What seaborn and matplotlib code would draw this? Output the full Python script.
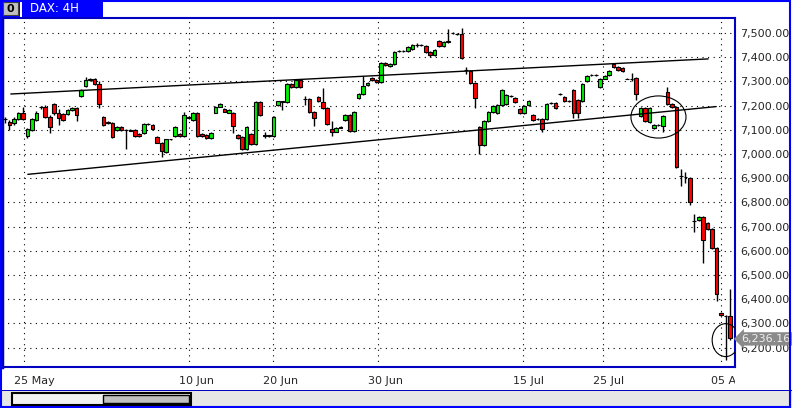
import numpy as np
import pandas as pd
import matplotlib
matplotlib.use("Agg")
import matplotlib.pyplot as plt
from matplotlib.patches import Rectangle, Ellipse
from matplotlib.transforms import Bbox, TransformedBbox
import seaborn as sns

# --- DAX 4H candles ---
opens = [7145, 7133, 7127, 7146, 7168, 7074, 7100, 7141, 7196, 7196,
         7154, 7205, 7171, 7165, 7165, 7182, 7189, 7240, 7279, 7305,
         7309, 7288, 7154, 7131, 7127, 7099, 7113, 7099, 7099, 7099,
         7083, 7088, 7123, 7120, 7072, 7047, 7010, 7061, 7074, 7083,
         7074, 7154, 7141, 7168, 7083, 7079, 7065, 7171, 7196, 7185,
         7171, 7168, 7079, 7072, 7019, 7083, 7041, 7216, 7076, 7076,
         7076, 7203, 7217, 7214, 7290, 7276, 7306, 7228, 7228, 7175,
         7235, 7214, 7189, 7104, 7093, 7110, 7141, 7163, 7094, 7231,
         7248, 7286, 7313, 7306, 7297, 7375, 7363, 7373, 7424, 7425,
         7424, 7432, 7451, 7449, 7446, 7421, 7411, 7467, 7446, 7462,
         7500, 7497, 7497, 7349, 7345, 7293, 7113, 7039, 7138, 7173,
         7170, 7201, 7205, 7240, 7233, 7187, 7170, 7201, 7163, 7145,
         7145, 7145, 7212, 7212, 7247, 7236, 7219, 7265, 7223, 7219,
         7303, 7326, 7326, 7275, 7312, 7326, 7372, 7358, 7354, 7312,
         7312, 7316, 7159, 7191, 7131, 7107, 7121, 7117, 7256, 7205,
         7195, 6910, 6903, 6899, 6724, 6728, 6740, 6717, 6690, 6610,
         6345, 6331, 6331]
highs = [7152, 7140, 7152, 7172, 7196, 7106, 7148, 7176, 7200, 7201,
         7160, 7210, 7185, 7170, 7186, 7196, 7193, 7268, 7319, 7316,
         7314, 7300, 7158, 7135, 7131, 7116, 7117, 7104, 7102, 7103,
         7086, 7127, 7127, 7124, 7076, 7050, 7064, 7064, 7117, 7087,
         7175, 7158, 7172, 7172, 7086, 7083, 7090, 7200, 7212, 7192,
         7186, 7172, 7083, 7076, 7114, 7087, 7220, 7220, 7090, 7080,
         7156, 7220, 7220, 7294, 7294, 7310, 7310, 7239, 7232, 7179,
         7239, 7272, 7193, 7138, 7110, 7114, 7167, 7167, 7177, 7252,
         7324, 7298, 7317, 7310, 7379, 7379, 7377, 7425, 7428, 7429,
         7446, 7453, 7460, 7453, 7450, 7425, 7435, 7471, 7466, 7518,
         7504, 7501, 7520, 7360, 7349, 7297, 7117, 7142, 7177, 7201,
         7205, 7269, 7248, 7244, 7237, 7191, 7202, 7223, 7167, 7149,
         7149, 7209, 7216, 7216, 7251, 7240, 7223, 7269, 7227, 7295,
         7325, 7330, 7330, 7313, 7327, 7348, 7376, 7362, 7358, 7316,
         7336, 7320, 7195, 7195, 7195, 7125, 7125, 7160, 7275, 7209,
         7199, 6937, 6925, 6903, 6751, 6744, 6744, 6721, 6694, 6614,
         6349, 6335, 6442]
lows = [7130, 7100, 7118, 7140, 7140, 7068, 7094, 7136, 7186, 7148,
        7086, 7163, 7120, 7137, 7160, 7178, 7138, 7236, 7275, 7300,
        7286, 7189, 7116, 7122, 7068, 7095, 7095, 7019, 7094, 7070,
        7071, 7084, 7119, 7098, 7044, 6989, 7005, 7058, 7070, 7070,
        7070, 7143, 7138, 7070, 7070, 7061, 7061, 7168, 7193, 7172,
        7168, 7088, 7061, 7015, 7015, 7037, 7037, 7157, 7065, 7072,
        7072, 7199, 7180, 7210, 7272, 7272, 7272, 7203, 7171, 7117,
        7214, 7185, 7120, 7076, 7089, 7106, 7137, 7090, 7090, 7227,
        7244, 7282, 7300, 7293, 7293, 7362, 7359, 7369, 7420, 7421,
        7420, 7428, 7442, 7445, 7417, 7400, 7407, 7442, 7442, 7458,
        7496, 7493, 7392, 7330, 7289, 7189, 7000, 7035, 7134, 7169,
        7166, 7197, 7201, 7236, 7212, 7166, 7166, 7197, 7138, 7141,
        7090, 7141, 7208, 7187, 7243, 7215, 7215, 7150, 7150, 7215,
        7299, 7322, 7322, 7271, 7308, 7322, 7354, 7345, 7340, 7308,
        7300, 7225, 7155, 7131, 7127, 7103, 7117, 7090, 7201, 7191,
        6943, 6869, 6880, 6790, 6676, 6724, 6548, 6686, 6606, 6393,
        6332, 6150, 6230]
closes = [7143, 7120, 7146, 7168, 7146, 7102, 7143, 7168, 7195, 7154,
          7113, 7168, 7147, 7141, 7182, 7189, 7161, 7264, 7305, 7308,
          7289, 7205, 7120, 7127, 7072, 7113, 7099, 7098, 7097, 7074,
          7074, 7123, 7122, 7102, 7047, 7014, 7061, 7061, 7113, 7074,
          7161, 7147, 7168, 7074, 7074, 7065, 7086, 7196, 7205, 7175,
          7182, 7116, 7065, 7019, 7110, 7041, 7216, 7161, 7078, 7077,
          7152, 7217, 7216, 7290, 7276, 7306, 7276, 7227, 7175, 7148,
          7218, 7189, 7124, 7093, 7106, 7109, 7163, 7094, 7173, 7248,
          7283, 7294, 7304, 7297, 7375, 7366, 7373, 7421, 7424, 7425,
          7442, 7449, 7450, 7449, 7421, 7411, 7431, 7446, 7462, 7469,
          7501, 7496, 7398, 7348, 7293, 7231, 7039, 7138, 7173, 7197,
          7201, 7265, 7244, 7240, 7216, 7170, 7198, 7219, 7142, 7145,
          7103, 7205, 7212, 7191, 7247, 7219, 7219, 7170, 7170, 7291,
          7321, 7326, 7326, 7309, 7323, 7344, 7358, 7349, 7344, 7312,
          7312, 7247, 7191, 7135, 7191, 7121, 7121, 7156, 7205, 7195,
          6947, 6908, 6903, 6802, 6722, 6740, 6645, 6690, 6610, 6421,
          6336, 6329, 6238]

tick_labels = ["25 May", "10 Jun", "20 Jun", "30 Jun", "15 Jul", "25 Jul", "05 Aug"]
tick_bars = [4.25, 41.1, 59.9, 83.35, 115.75, 133.6, 160.0]
price_ticks = list(range(6200, 7501, 100))

# trend channel + circled areas
trend_line = ["upper", "upper", "lower", "lower"]
trend_x = [1.3, 157.1, 5.1, 158.9]
trend_y = [7248, 7393, 6916, 7196]
circle_x = [146.0, 161.0]
circle_y = [7153, 6231]
circle_w = [12.3, 6.0]
circle_h = [174, 136]
last_price = 6236.16

W, H = 792, 408
BLUE = "#0000ff"
FRAME = "#0000c0"


def fx(px):
    return px / W


def fy(py):
    return 1 - py / H


sns.set_style("white")
plt.rcParams["font.family"] = ["DejaVu Sans"]

fig = plt.figure(figsize=(W / 100, H / 100), dpi=100)
ax = fig.add_axes([fx(2), fy(367), fx(735) - fx(2), fy(18) - fy(367)])

df = pd.DataFrame({"o": opens, "h": highs, "l": lows, "c": closes})
df["i"] = np.arange(len(df))
colors = np.where(df.c > df.o, "#00ee00", np.where(df.c < df.o, "#ff0000", "black"))

ax.vlines(df.i, df.l, df.h, color="black", lw=1, zorder=3)
ax.bar(df.i, (df.c - df.o).abs(), bottom=df[["o", "c"]].min(axis=1), width=0.8,
       color=colors, edgecolor="black", linewidth=0.8, zorder=4)

trend_df = pd.DataFrame({"line": trend_line, "x": trend_x, "y": trend_y})
sns.lineplot(data=trend_df, x="x", y="y", units="line", estimator=None,
             color="black", lw=1, ax=ax, zorder=5)

for cx, cy, cw, ch in zip(circle_x, circle_y, circle_w, circle_h):
    ax.add_patch(Ellipse((cx, cy), cw, ch, fill=False, ec="black", lw=0.8, zorder=6))

ax.set_xlim(-0.67, 163.1)
ax.set_ylim(6120, 7562)
ax.set_xlabel("")
ax.set_ylabel("")

ax.set_xticks(tick_bars)
ax.set_xticklabels([])
ax.set_yticks(price_ticks)
ax.set_yticklabels([f"{v:,.2f}" for v in price_ticks], fontsize=8)
ax.yaxis.tick_right()
ax.tick_params(length=0, pad=4)
ax.grid(True, color="black", linestyle=(0, (1, 4)), linewidth=0.8)

clip = TransformedBbox(Bbox([[0, -0.2], [1, 1.1]]), ax.transAxes)
for pos, lab in zip(tick_bars, tick_labels):
    t = ax.text(pos - 2.2, -0.04, lab, transform=ax.get_xaxis_transform(),
                ha="left", va="center", fontsize=8, clip_on=True)
    t.set_clip_box(clip)

for side, sp in ax.spines.items():
    sp.set_color(FRAME)
    sp.set_linewidth(1.5)
ax.spines["left"].set_linewidth(2.5)

# price tag on the right axis
ax.text(1.0 + 6 / 733, last_price, f"{last_price:,.2f}", transform=ax.get_yaxis_transform(),
        ha="left", va="center", fontsize=8, color="#f0f0f0",
        bbox=dict(boxstyle="larrow,pad=0.15", fc="#8a8a8a", ec="none"))

# title strip
fig.add_artist(Rectangle((fx(0), fy(17)), fx(103), 17 / H, transform=fig.transFigure,
                         fc=BLUE, ec="none"))
fig.add_artist(Rectangle((fx(3), fy(15)), fx(15), 13 / H, transform=fig.transFigure,
                         fc="#c0c0c0", ec="#404040", lw=0.8))
fig.text(fx(10.5), fy(8.5), "0", ha="center", va="center", fontsize=8,
         fontweight="bold", color="black")
fig.add_artist(Rectangle((fx(20), fy(17)), fx(2), 17 / H, transform=fig.transFigure,
                         fc="white", ec="none"))
fig.text(fx(30), fy(8.5), "DAX: 4H", ha="left", va="center", fontsize=8.5, color="white")

# scroll strip at the bottom
fig.add_artist(Rectangle((0, 0), 1, 17 / H, transform=fig.transFigure,
                         fc="#e6e6e6", ec="none"))
fig.add_artist(Rectangle((0, fy(391)), 1, 1 / H, transform=fig.transFigure,
                         fc=FRAME, ec="none"))
fig.add_artist(Rectangle((fx(12), fy(405)), fx(179), 12 / H, transform=fig.transFigure,
                         fc="#f2f2f2", ec="black", lw=1.5))
fig.add_artist(Rectangle((fx(103), fy(403)), fx(86), 8 / H, transform=fig.transFigure,
                         fc="#c0c0c0", ec="black", lw=1))

# window border
fig.add_artist(Rectangle((0.001, 0.002), 0.997, 0.996, transform=fig.transFigure,
                         fill=False, ec=BLUE, lw=1.5))

fig.savefig("out.png", dpi=100, facecolor="white")
